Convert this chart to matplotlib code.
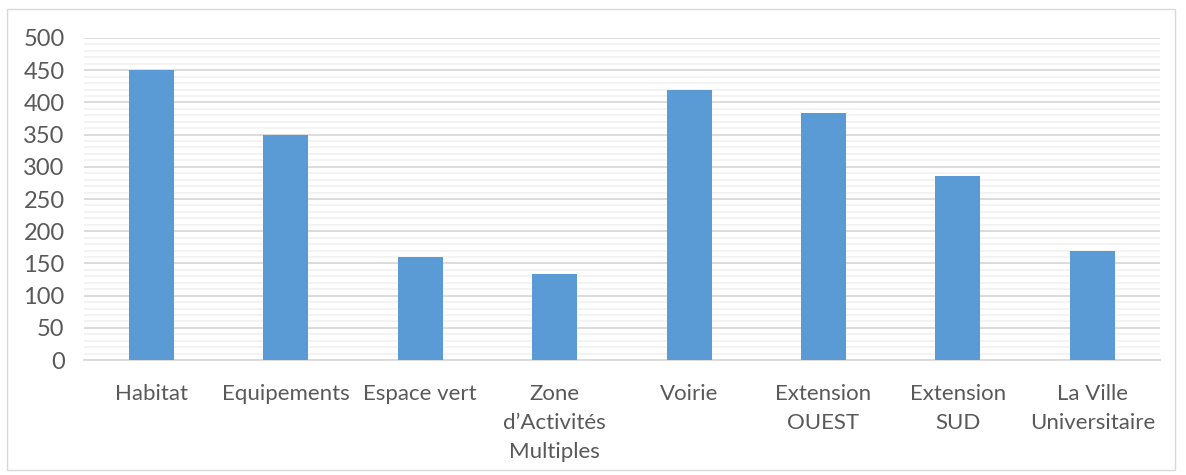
import matplotlib.pyplot as plt
from matplotlib.patches import Rectangle
from matplotlib.ticker import MultipleLocator

categories = ["Habitat", "Equipements", "Espace vert", "Zone\nd\u2019Activit\u00e9s\nMultiples",
              "Voirie", "Extension\nOUEST", "Extension\nSUD", "La Ville\nUniversitaire"]
values = [450, 350, 160, 134, 420, 384, 286, 170]
yticks = [0, 50, 100, 150, 200, 250, 300, 350, 400, 450, 500]

plt.rcParams['font.family'] = ['Lato', 'DejaVu Sans']

fig = plt.figure(figsize=(11.86, 4.75), dpi=100)
ax = fig.add_axes([0.0708, 0.242, 0.907, 0.678])

# outer chart border
fig.patches.append(Rectangle((0.006, 0.01), 0.985, 0.972, transform=fig.transFigure,
                             fill=False, edgecolor='#d9d9d9', linewidth=1))

x = range(len(categories))
ax.bar(x, values, width=0.335, color='#5b9bd5', zorder=3)

ax.set_xlim(-0.5, len(categories) - 0.5)
ax.set_ylim(0, 500)
ax.set_yticks(yticks)
ax.yaxis.set_minor_locator(MultipleLocator(10))
ax.grid(which='major', axis='y', color='#d9d9d9', linewidth=1.3, zorder=0)
ax.grid(which='minor', axis='y', color='#f2f2f2', linewidth=1.3, zorder=0)
ax.set_xticks(list(x))
ax.set_xticklabels(categories, fontsize=16, color='#595959', linespacing=1.58)
ax.tick_params(axis='y', labelsize=17, labelcolor='#595959', length=0, pad=14)
ax.tick_params(axis='x', length=0, pad=17)
ax.tick_params(which='minor', length=0)
for s in ['top', 'right', 'left']:
    ax.spines[s].set_visible(False)
ax.spines['bottom'].set_color('#d9d9d9')
ax.spines['bottom'].set_linewidth(1.3)

fig.savefig('out.png', dpi=100)
